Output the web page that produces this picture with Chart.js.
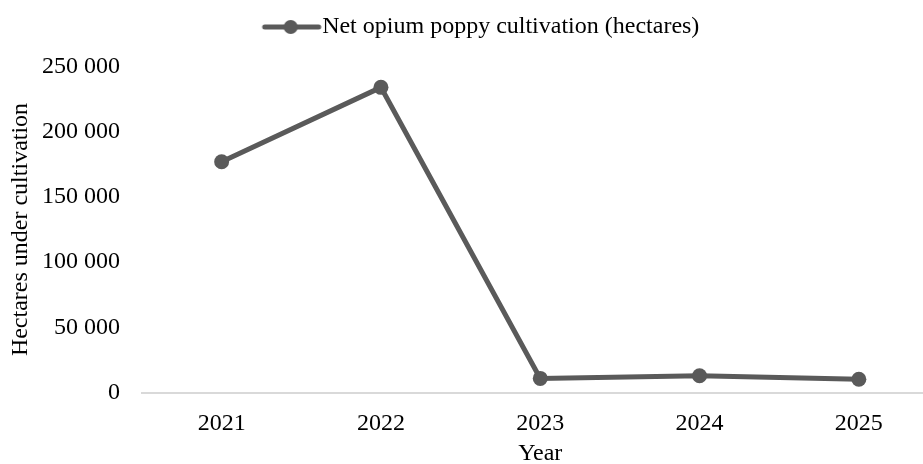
<!DOCTYPE html>
<html>
<head>
<meta charset="utf-8">
<script src="https://cdn.jsdelivr.net/npm/chart.js@4.4.1/dist/chart.umd.min.js"></script>
<style>
  html, body { margin: 0; padding: 0; background: #fff; overflow: hidden; width: 923px; height: 464px; }
  #wrap { width: 946px; height: 464px; }
</style>
</head>
<body>
<div id="wrap"><canvas id="c" width="946" height="464"></canvas></div>
<script>
const years = ['2021', '2022', '2023', '2024', '2025'];
const cultivation = [177000, 234000, 10800, 12800, 10200];
const seriesLabel = 'Net opium poppy cultivation (hectares)';
const yTicks = [0, 50000, 100000, 150000, 200000, 250000];
const xTitle = 'Year';
const yTitle = 'Hectares under cultivation';

const LINE = '#5a5a5a';
const FONT = '"Liberation Serif", "Times New Roman", serif';
const FS = 24;

function fmt(v) {
  return String(v).replace(/\B(?=(\d{3})+(?!\d))/g, ' ');
}

// legend marker: line with circle
const mk = document.createElement('canvas');
mk.width = 98; mk.height = 18;
(function () {
  const g = mk.getContext('2d');
  g.strokeStyle = LINE; g.lineWidth = 5; g.lineCap = 'round';
  g.beginPath(); g.moveTo(33, 9); g.lineTo(87, 9); g.stroke();
  g.fillStyle = LINE;
  g.beginPath(); g.arc(59, 9, 7, 0, Math.PI * 2); g.fill();
})();

const legendSpacer = {
  id: 'legendSpacer',
  beforeLayout(chart) {
    const lg = chart.legend;
    if (lg && !lg._patched) {
      lg._patched = true;
      const orig = lg.fit;
      lg.fit = function () { orig.call(this); this.height = 66.5; };
    }
  }
};

new Chart(document.getElementById('c'), {
  type: 'line',
  data: {
    labels: years,
    datasets: [{
      label: seriesLabel,
      data: cultivation,
      borderColor: LINE,
      backgroundColor: LINE,
      borderWidth: 5,
      pointRadius: 7.5,
      pointHoverRadius: 7.5,
      pointBackgroundColor: LINE,
      pointBorderWidth: 0,
      tension: 0,
      fill: false
    }]
  },
  plugins: [legendSpacer],
  options: {
    responsive: false,
    animation: false,
    layout: { padding: { top: 0, right: 1.5, left: 6, bottom: 0 } },
    plugins: {
      tooltip: { enabled: false },
      legend: {
        position: 'top',
        labels: {
          usePointStyle: true,
          pointStyleWidth: 59,
          padding: 15,
          color: '#000',
          font: { family: FONT, size: FS },
          generateLabels: () => [{
            text: seriesLabel,
            pointStyle: mk,
            fillStyle: LINE,
            strokeStyle: LINE,
            lineWidth: 0,
            hidden: false,
            datasetIndex: 0
          }]
        }
      }
    },
    scales: {
      x: {
        type: 'category',
        offset: true,
        afterFit: (s) => { s.height = 71.5; },
        grid: { display: false, drawTicks: false },
        border: { display: true, color: '#d9d9d9', width: 2 },
        ticks: { color: '#000', font: { family: FONT, size: FS }, padding: 17 },
        title: { display: true, text: xTitle, color: '#000', font: { family: FONT, size: FS, lineHeight: 1 }, padding: { top: 0, bottom: -2 } }
      },
      y: {
        min: 0,
        max: 250000,
        afterFit: (s) => { s.width = 136; },
        afterBuildTicks: (s) => { s.ticks = yTicks.map(v => ({ value: v })); },
        grid: { display: false, drawTicks: false },
        border: { display: false },
        ticks: { color: '#000', font: { family: FONT, size: FS }, padding: 22, callback: (v) => fmt(v) },
        title: { display: true, text: yTitle, color: '#000', font: { family: FONT, size: FS }, padding: { top: 0, bottom: 0 } }
      }
    }
  }
});
</script>
</body>
</html>
